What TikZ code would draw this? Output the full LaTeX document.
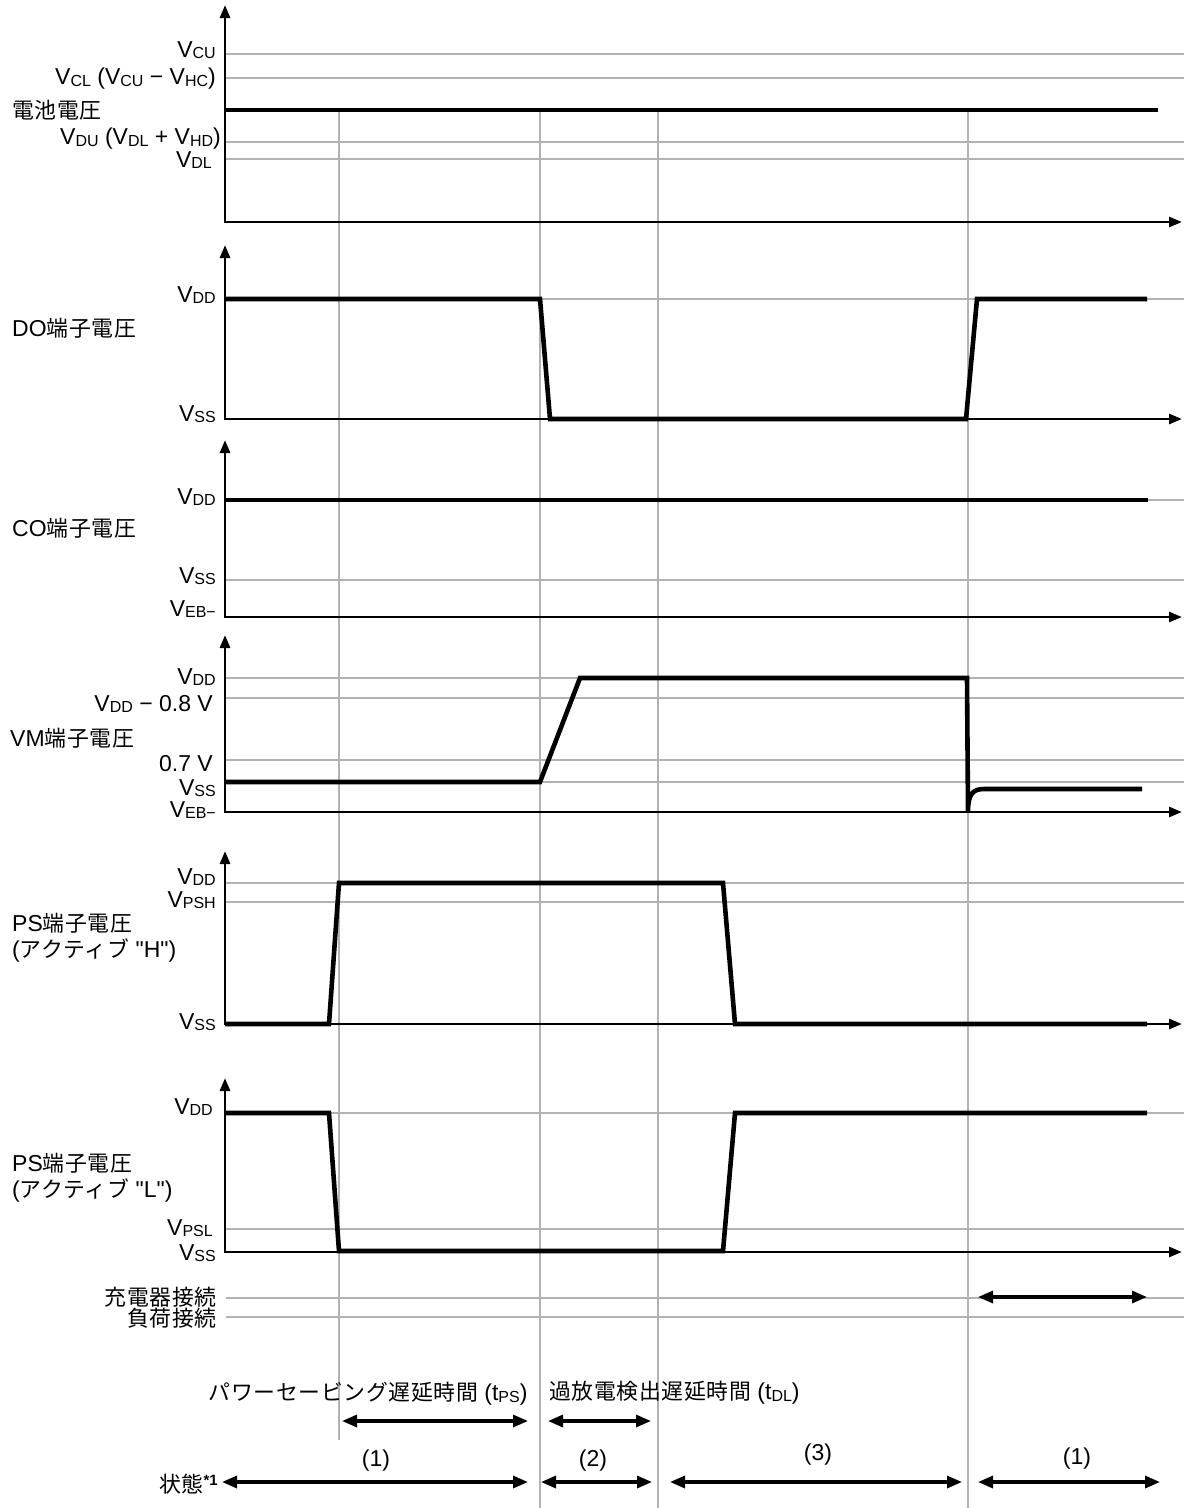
\documentclass[tikz,border=0pt]{standalone}
\usepackage{fontspec}
\setmainfont{Liberation Sans}
\newfontfamily\plainq{Liberation Sans}
\newfontfamily\jp{Noto Sans CJK JP}[Scale=0.95,LetterSpace=3]
\usetikzlibrary{arrows.meta}
\newcommand\sbs[1]{\raisebox{-1.2pt}{\fontsize{16}{16}\selectfont #1}}
\colorlet{gridc}{black!30}
\begin{document}
\begin{tikzpicture}[x=1pt,y=-1pt,
  gridline/.style={draw=gridc,line width=1.1pt},
  axisline/.style={line width=2.8pt,line join=miter,{Triangle[length=13pt,width=10pt]}-{Triangle[length=13pt,width=10pt]}},
  wave/.style={line width=4.6pt,line join=miter},
  darr/.style={line width=3.2pt,{Triangle[length=15pt,width=12pt]}-{Triangle[length=15pt,width=12pt]}},
  lab/.style={anchor=east,inner sep=0pt,font=\fontsize{23}{26}\selectfont},
  ttl/.style={anchor=west,inner sep=0pt,align=left,font=\fontsize{23}{26}\selectfont},
  txt/.style={inner sep=0pt,font=\fontsize{23}{26}\selectfont}]
\fill[white] (0,0) rectangle (1184,1508);
\useasboundingbox (0,0) rectangle (1184,1508);

% ---------- vertical gray lines ----------
\draw[gridline] (339,112) -- (339,1440);
\draw[gridline] (540,112) -- (540,1508);
\draw[gridline] (658,112) -- (658,1508);
\draw[gridline] (968,112) -- (968,1508);

% ---------- horizontal gray lines ----------
\foreach \yy in {54,78,142,159, 299, 500,580, 678,698,760,782, 883,902, 1113,1229, 1298,1317}
  \draw[gridline] (226,\yy) -- (1184,\yy);

% ---------- axes ----------
\draw[axisline] (225,5) -- (225,222) -- (1182,222);
\draw[axisline] (225,245) -- (225,419) -- (1182,419);
\draw[axisline] (225,440) -- (225,617) -- (1182,617);
\draw[axisline] (225,635) -- (225,812) -- (1182,812);
\draw[axisline] (225,851) -- (225,1024) -- (1182,1024);
\draw[axisline] (225,1078) -- (225,1252) -- (1182,1252);

% ---------- waveforms ----------
\draw[wave] (225,110) -- (1158,110);
\draw[wave] (225,299) -- (540,299) -- (550,419) -- (966,419) -- (977,299) -- (1147,299);
\draw[wave] (225,500) -- (1148,500);
\draw[wave] (225,782) -- (540,782) -- (580,678) -- (967,678) -- (968,812)
  .. controls (968,795) and (972,789) .. (984,789) -- (1142,789);
\draw[wave] (225,1024) -- (329,1024) -- (339,883) -- (723,883) -- (735,1024) -- (1147,1024);
\draw[wave] (225,1113) -- (329,1113) -- (339,1251) -- (723,1251) -- (735,1113) -- (1147,1113);

% ---------- labels ----------
\node[lab] (vcu) at (216,50) {V\sbs{CU}};
\node[lab] (vcl) at (216,79) {V\sbs{CL} (V\sbs{CU} − V\sbs{HC})};
\node[ttl] (batt) at (12,110) {\jp 電池電圧};
\node[lab] (vdu) at (221,139) {V\sbs{DU} (V\sbs{DL} + V\sbs{HD})};
\node[lab] (vdl) at (212,160) {V\sbs{DL}};

\node[lab] (dovdd) at (216,295) {V\sbs{DD}};
\node[ttl] (dot) at (12,328) {DO{\jp 端子電圧}};
\node[lab] (dovss) at (216,414) {V\sbs{SS}};

\node[lab] (covdd) at (216,497) {V\sbs{DD}};
\node[ttl] (cot) at (12,528) {CO{\jp 端子電圧}};
\node[lab] (covss) at (216,576) {V\sbs{SS}};
\node[lab] (coveb) at (216,609) {V\sbs{EB−}};

\node[lab] (vmvdd) at (216,677) {V\sbs{DD}};
\node[lab] (vmvdd8) at (213,704) {V\sbs{DD} − 0.8 V};
\node[ttl] (vmt) at (10,738) {VM{\jp 端子電圧}};
\node[lab] (vm07) at (213,764) {0.7 V};
\node[lab] (vmvss) at (216,788) {V\sbs{SS}};
\node[lab] (vmveb) at (216,810) {V\sbs{EB−}};

\node[lab] (phvdd) at (216,877) {V\sbs{DD}};
\node[lab] (phvpsh) at (216,900) {V\sbs{PSH}};
\node[ttl] (pht) at (12,938) {PS{\jp 端子電圧}\\({\jp アクティブ} {\plainq "H"})};
\node[lab] (phvss) at (216,1022) {V\sbs{SS}};

\node[lab] (plvdd) at (213,1107) {V\sbs{DD}};
\node[ttl] (plt) at (12,1178) {PS{\jp 端子電圧}\\({\jp アクティブ} {\plainq "L"})};
\node[lab] (plvpsl) at (213,1228) {V\sbs{PSL}};
\node[lab] (plvss) at (216,1253) {V\sbs{SS}};

\node[lab] (chg) at (217,1297) {\jp 充電器接続};
\node[lab] (load) at (217,1318) {\jp 負荷接続};

\node[txt] (tps) at (368,1394) {{\jp パワーセービング遅延時間} (t\sbs{PS})};
\node[txt,anchor=west] (tdl) at (549,1393) {{\jp 過放電検出遅延時間} (t\sbs{DL})};

\node[lab] (state) at (218,1484) {{\jp 状態}\raisebox{7pt}{\fontsize{15}{15}\selectfont\bfseries *1}};

\node[txt] (s1) at (376,1461) {(1)};
\node[txt] (s2) at (593,1461) {(2)};
\node[txt] (s3) at (818,1455) {(3)};
\node[txt] (s4) at (1077,1459) {(1)};

% ---------- double arrows ----------
\coordinate (c1a) at (978,1297); \coordinate (c1b) at (1147,1297);
\draw[darr] (c1a) -- (c1b);
\coordinate (pa) at (342,1421); \coordinate (pb) at (528,1421);
\draw[darr] (pa) -- (pb);
\coordinate (da) at (548,1421); \coordinate (db) at (651,1421);
\draw[darr] (da) -- (db);
\coordinate (sa) at (222,1482); \coordinate (sb) at (528,1482);
\draw[darr] (sa) -- (sb);
\coordinate (t2a) at (541,1482); \coordinate (t2b) at (652,1482);
\draw[darr] (t2a) -- (t2b);
\coordinate (t3a) at (670,1482); \coordinate (t3b) at (962,1482);
\draw[darr] (t3a) -- (t3b);
\coordinate (t4a) at (978,1482); \coordinate (t4b) at (1160,1482);
\draw[darr] (t4a) -- (t4b);
\end{tikzpicture}
\end{document}
